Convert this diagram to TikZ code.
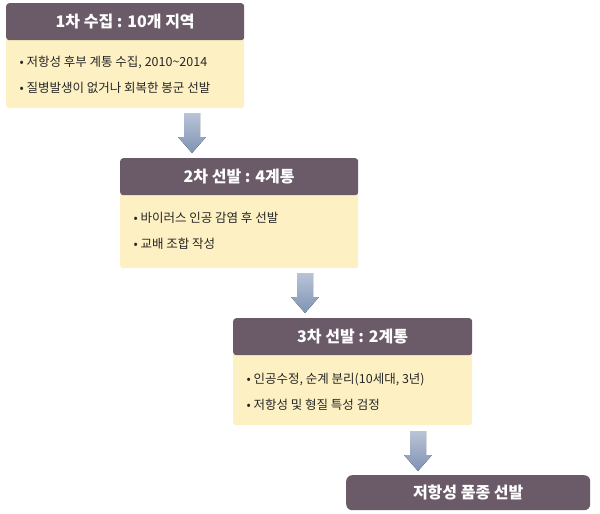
\documentclass[tikz,border=0pt]{standalone}
\usepackage{fontspec}
\setmainfont{Noto Sans CJK KR}
\definecolor{hdr}{HTML}{6B5A68}
\definecolor{bdy}{HTML}{FDF1C4}
\definecolor{arr}{HTML}{7F93B4}
\tikzset{
 hbox/.style={fill=hdr,rounded corners=3pt,text=white,font=\bfseries\fontsize{16}{18}\selectfont,anchor=north west,minimum height=37pt,inner sep=0pt},
 bbox/.style={fill=bdy,rounded corners=3pt,anchor=north west,inner sep=0pt},
 btxt/.style={anchor=west,font=\fontsize{12.5}{14}\selectfont,text=black!85},
 darrow/.style={top color=arr!55,bottom color=arr,draw=none}
}
\newcommand{\mydarr}[2]{%
 \fill[darrow] (#1-8,#2) -- (#1+8,#2) -- (#1+8,#2+24) -- (#1+14,#2+24) -- (#1,#2+40) -- (#1-14,#2+24) -- (#1-8,#2+24) -- cycle;}
\begin{document}
\begin{tikzpicture}[x=1pt,y=-1pt]
\useasboundingbox (0,0) rectangle (600,514);
% box 1
\node[bbox,minimum width=238pt,minimum height=72pt] (b1) at (6,36) {};
\node[hbox,minimum width=238pt] (h1) at (6,3) {1차 수집 : 10개 지역};
\node[btxt] (t11) at (16,62) {• 저항성 후부 계통 수집, 2010\textasciitilde2014};
\node[btxt] (t12) at (16,88) {• 질병발생이 없거나 회복한 봉군 선발};
% box 2
\node[bbox,minimum width=238pt,minimum height=76pt] (b2) at (120,192) {};
\node[hbox,minimum width=238pt] (h2) at (120,158) {2차 선발 : 4계통};
\node[btxt] (t21) at (130,218) {• 바이러스 인공 감염 후 선발};
\node[btxt] (t22) at (130,244) {• 교배 조합 작성};
% box 3
\node[bbox,minimum width=239pt,minimum height=74pt] (b3) at (233,351) {};
\node[hbox,minimum width=239pt] (h3) at (233,318) {3차 선발 : 2계통};
\node[btxt] (t31) at (243,380) {• 인공수정, 순계 분리(10세대, 3년)};
\node[btxt] (t32) at (243,405) {• 저항성 및 형질 특성 검정};
% final
\node[hbox,minimum width=244pt,minimum height=35pt,rounded corners=6pt] (f) at (346,475) {저항성 품종 선발};
% arrows
\mydarr{192}{113}
\mydarr{305}{273}
\mydarr{418}{431}
\end{tikzpicture}
\end{document}
